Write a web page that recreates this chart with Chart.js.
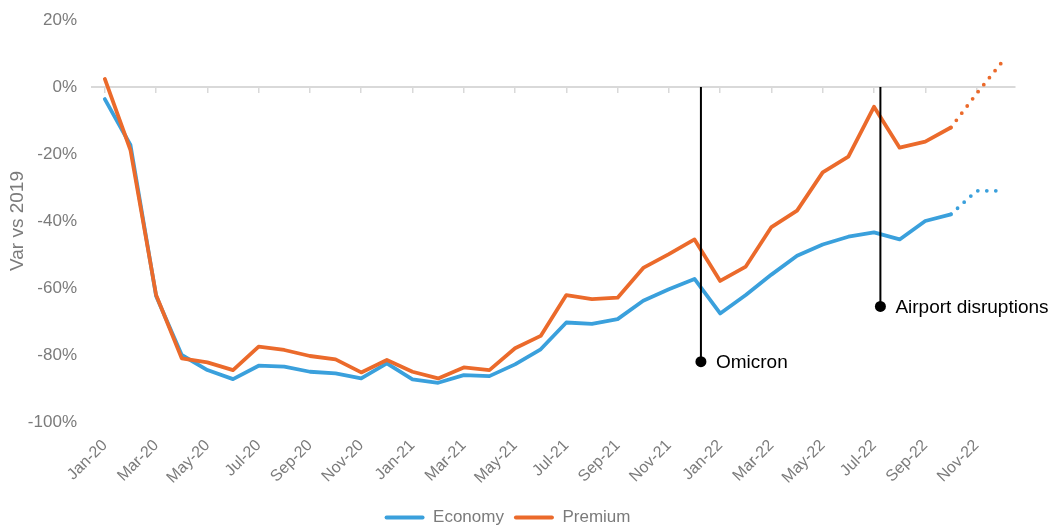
<!DOCTYPE html>
<html>
<head>
<meta charset="utf-8">
<script src="https://cdn.jsdelivr.net/npm/chart.js@4.4.0/dist/chart.umd.min.js"></script>
<style>
  html, body { margin: 0; padding: 0; background: #fff; overflow: hidden; }
  #wrap { width: 1053px; height: 536px; position: relative; }
</style>
</head>
<body>
<div id="wrap"><canvas id="chart"></canvas></div>
<script>
/* ── Data ── */
const months = [
  'Jan-20','Feb-20','Mar-20','Apr-20','May-20','Jun-20','Jul-20','Aug-20','Sep-20','Oct-20','Nov-20','Dec-20',
  'Jan-21','Feb-21','Mar-21','Apr-21','May-21','Jun-21','Jul-21','Aug-21','Sep-21','Oct-21','Nov-21','Dec-21',
  'Jan-22','Feb-22','Mar-22','Apr-22','May-22','Jun-22','Jul-22','Aug-22','Sep-22','Oct-22','Nov-22','Dec-22'
];
const economy = [
  -3.6, -17.3, -62.4, -80.0, -84.5, -87.2, -83.2, -83.5, -85.0, -85.5, -87.0, -82.5,
  -87.3, -88.3, -86.0, -86.3, -82.8, -78.3, -70.3, -70.7, -69.3, -63.8, -60.4, -57.3,
  -67.6, -62.1, -56.0, -50.4, -47.0, -44.7, -43.4, -45.5, -40.0, -38.0, -31.0, -31.0
];
const premium = [
  2.4, -18.8, -62.1, -81.0, -82.2, -84.5, -77.5, -78.5, -80.3, -81.3, -85.2, -81.5,
  -85.0, -87.0, -83.7, -84.5, -78.0, -74.3, -62.1, -63.3, -62.9, -54.0, -49.9, -45.5,
  -57.9, -53.6, -41.8, -36.9, -25.5, -20.8, -5.9, -18.1, -16.3, -12.1, -2.0, 7.5
];
const forecastFrom = 33;          // Oct-22 onwards is dotted
const events  = ['Omicron', 'Airport disruptions'];
const eventAt = [23.25, 30.25];   // position in months from Jan-20
const eventDot = [-82, -65.5];

const FONT = 'Arial, "Liberation Sans", sans-serif';
const GREY = '#7b7b7b';
const BLUE = '#3aa0dc';
const ORANGE = '#eb6a2b';

const dotted = ctx => ctx.p0DataIndex >= forecastFrom ? [0, 9] : undefined;

/* ── Event labels drawn next to the marker dot ── */
const eventLabels = {
  id: 'eventLabels',
  afterDatasetsDraw(chart) {
    const c = chart.ctx;
    c.save();
    c.font = '19px ' + FONT;
    c.fillStyle = '#000';
    c.textBaseline = 'middle';
    chart.data.datasets.forEach((ds, i) => {
      if (!ds.eventName) return;
      const pt = chart.getDatasetMeta(i).data[1];
      c.fillText(ds.eventName, pt.x + 15, pt.y + 1);
    });
    c.restore();
  }
};

const eventSets = events.map((name, i) => ({
  type: 'line',
  eventName: name,
  xAxisID: 'xa',
  data: [{ x: eventAt[i], y: 0 }, { x: eventAt[i], y: eventDot[i] }],
  borderColor: '#000',
  borderWidth: 2,
  pointRadius: [0, 5.5],
  pointBackgroundColor: '#000',
  pointBorderWidth: 0,
  order: 1
}));

new Chart(document.getElementById('chart'), {
  type: 'line',
  data: {
    labels: months,
    datasets: [
      {
        label: 'Economy', data: economy,
        borderColor: BLUE, backgroundColor: BLUE,
        borderWidth: 3.8, pointRadius: 0, tension: 0,
        borderCapStyle: 'round', borderJoinStyle: 'round',
        segment: { borderDash: dotted },
        order: 3
      },
      {
        label: 'Premium', data: premium,
        borderColor: ORANGE, backgroundColor: ORANGE,
        borderWidth: 3.8, pointRadius: 0, tension: 0,
        borderCapStyle: 'round', borderJoinStyle: 'round',
        segment: { borderDash: dotted },
        order: 2
      },
      ...eventSets
    ]
  },
  options: {
    responsive: true, maintainAspectRatio: false, animation: false,
    layout: { padding: { top: 20, right: 38, left: 0, bottom: 0 } },
    plugins: {
      tooltip: { enabled: false },
      legend: {
        position: 'bottom',
        labels: {
          color: GREY, font: { family: FONT, size: 17 },
          boxWidth: 40, boxHeight: 4, padding: 10,
          useBorderRadius: true, borderRadius: 2,
          sort: (a, b) => a.datasetIndex - b.datasetIndex,
          generateLabels: chart => Chart.defaults.plugins.legend.labels.generateLabels(chart)
            .filter(l => l.datasetIndex < 2)
            .map(l => ({ ...l, lineWidth: 0 }))
        }
      }
    },
    scales: {
      x: {
        offset: true,
        grid: { display: false },
        border: { display: false },
        ticks: {
          autoSkip: false, minRotation: 45, maxRotation: 45, padding: 6,
          color: GREY, font: { family: FONT, size: 16 },
          callback: function (v, i) { return i % 2 === 0 ? this.getLabelForValue(v) : ''; }
        },
        afterFit: s => { s.height = 77; }
      },
      x0: {
        type: 'category', position: { y: 0 }, offset: true,
        grid: {
          drawOnChartArea: false, tickLength: 5, lineWidth: 1.5,
          color: ctx => ctx.index % 2 === 0 ? '#d9d9d9' : 'rgba(0,0,0,0)'
        },
        border: { display: true, color: '#d9d9d9', width: 2 },
        ticks: { display: false, autoSkip: false }
      },
      xa: { type: 'linear', display: false, min: -0.5, max: 35.5 },
      y: {
        min: -100, max: 20,
        grid: { display: false, drawTicks: false },
        border: { display: false },
        ticks: {
          stepSize: 20, padding: 15,
          color: GREY, font: { family: FONT, size: 17 },
          callback: v => v + '%'
        },
        title: {
          display: true, text: 'Var vs 2019',
          color: GREY, font: { family: FONT, size: 19 },
          padding: { top: 6, bottom: 0 }
        },
        afterFit: s => { s.width = 92; s.paddingTop = 0; s.paddingBottom = 0; }
      }
    }
  },
  plugins: [eventLabels]
});
</script>
</body>
</html>
